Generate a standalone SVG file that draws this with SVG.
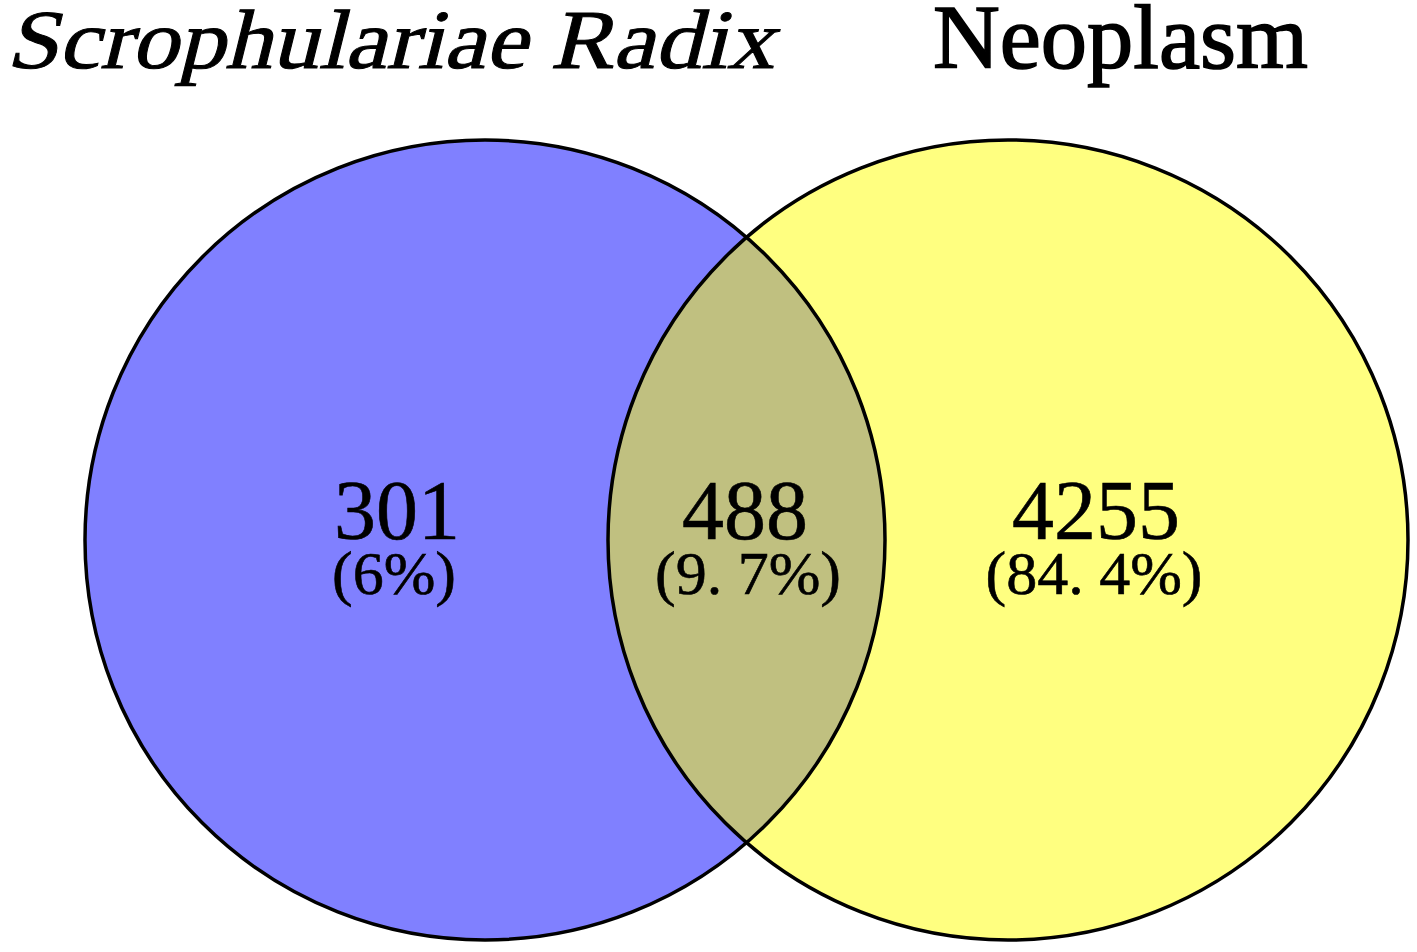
<svg xmlns="http://www.w3.org/2000/svg" width="1417" height="952" viewBox="0 0 1417 952">
<style>
.lbl{font-family:"Liberation Serif","DejaVu Serif",serif;fill:#000;stroke:#000}
.num{font-family:"Liberation Serif","DejaVu Serif",serif;font-size:84px;fill:#000;text-anchor:middle;stroke:#000;stroke-width:0.6}
.pct{font-family:"Liberation Serif","DejaVu Serif",serif;font-size:62px;fill:#000;text-anchor:middle;stroke:#000;stroke-width:0.6}
.ring{fill:none;stroke:#000;stroke-width:3.5}
</style>
<rect width="1417" height="952" fill="#fff"/>
<g id="set-a">
<circle cx="485" cy="540" r="400" fill="#8080FF"/>
</g>
<g id="set-b">
<circle cx="1008" cy="540" r="400" fill="#FFFF80"/>
</g>
<g id="overlap">
<path d="M747 237.5 A400 400 0 0 1 747 842.5 A400 400 0 0 1 747 237.5 Z" fill="#C0C080"/>
</g>
<g id="outlines">
<circle class="ring" cx="485" cy="540" r="400"/>
<circle class="ring" cx="1008" cy="540" r="400"/>
</g>
<g id="titles">
<g transform="translate(0,68) skewX(-14) translate(0,-68)">
<text class="lbl" x="6" y="68" font-size="84" stroke-width="1" textLength="768" lengthAdjust="spacingAndGlyphs">Scrophulariae Radix</text>
</g>
<text class="lbl" x="933" y="68" font-size="90" stroke-width="1.6" textLength="375" lengthAdjust="spacingAndGlyphs">Neoplasm</text>
</g>
<g id="counts">
<text class="num" x="397" y="539">301</text>
<text class="pct" x="394" y="594">(6%)</text>
<text class="num" x="745" y="539">488</text>
<text class="pct" x="748" y="594">(9. 7%)</text>
<text class="num" x="1096" y="539">4255</text>
<text class="pct" x="1094" y="594">(84. 4%)</text>
</g>
</svg>
